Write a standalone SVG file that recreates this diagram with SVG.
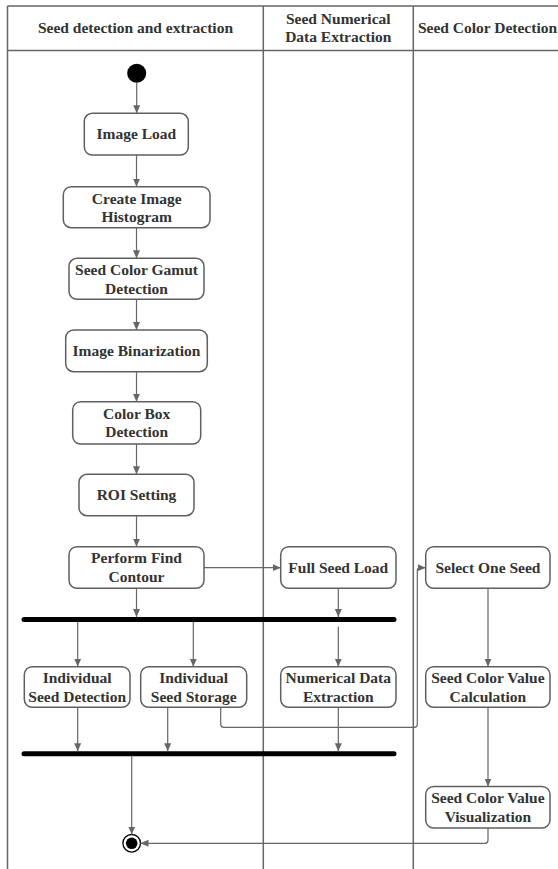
<svg xmlns="http://www.w3.org/2000/svg" width="558" height="869" viewBox="0 0 558 869">
<style>
.lane{stroke:#666;stroke-width:1.5;fill:none}
.node rect{fill:#fff;stroke:#5f5f5f;stroke-width:1.5}
text{font-family:"Liberation Serif","Times New Roman",serif;font-weight:bold;font-size:15.5px;fill:#333;text-anchor:middle}
.c{stroke:#666;stroke-width:1.2;fill:none}
.bar{stroke:#000;stroke-width:5;stroke-linecap:round}
</style>
<defs>
<marker id="ah" markerUnits="userSpaceOnUse" markerWidth="10" markerHeight="8" refX="8" refY="4" orient="auto">
<path d="M0,0.5 L8,4 L0,7.5 Z" fill="#666"/>
</marker>
</defs>
<rect width="558" height="869" fill="#fff"/>
<g id="lanes">
<path class="lane" d="M7.5,6 H558 M7.5,50.5 H558 M7.5,6 V869 M263.3,6 V869 M413.3,6 V869"/>
<text x="135.5" y="32.5">Seed detection and extraction</text>
<text x="338.3" y="23.5">Seed Numerical</text>
<text x="338.3" y="41.5">Data Extraction</text>
<text x="487.5" y="32.5">Seed Color Detection</text>
</g>
<g id="start"><circle cx="136.7" cy="73.3" r="9.5" fill="#000"/></g>
<g id="n1" class="node"><rect x="84.3" y="113.3" width="104" height="41.7" rx="8"/><text x="136.3" y="139">Image Load</text></g>
<g id="n2" class="node"><rect x="63.3" y="186.7" width="146.7" height="41" rx="8"/><text x="136.7" y="203.5">Create Image</text><text x="136.7" y="222">Histogram</text></g>
<g id="n3" class="node"><rect x="69" y="258.3" width="135" height="41" rx="8"/><text x="136.5" y="275">Seed Color Gamut</text><text x="136.5" y="293.5">Detection</text></g>
<g id="n4" class="node"><rect x="65.7" y="330" width="141.6" height="41.7" rx="8"/><text x="136.5" y="355.8">Image Binarization</text></g>
<g id="n5" class="node"><rect x="72.7" y="401.7" width="128" height="42.3" rx="8"/><text x="136.7" y="418.6">Color Box</text><text x="136.7" y="437.1">Detection</text></g>
<g id="n6" class="node"><rect x="79" y="474.3" width="115" height="41.4" rx="8"/><text x="136.5" y="500">ROI Setting</text></g>
<g id="n7" class="node"><rect x="69" y="546.7" width="135" height="41.6" rx="8"/><text x="136.5" y="563.4">Perform Find</text><text x="136.5" y="581.9">Contour</text></g>
<g id="n8" class="node"><rect x="280.7" y="546.7" width="115.3" height="41.6" rx="8"/><text x="338.3" y="572.5">Full Seed Load</text></g>
<g id="n9" class="node"><rect x="425.7" y="546.7" width="124.3" height="41.6" rx="8"/><text x="487.9" y="572.5">Select One Seed</text></g>
<g id="n10" class="node"><rect x="24.3" y="666.7" width="105.7" height="40.6" rx="8"/><text x="77.2" y="683.2">Individual</text><text x="77.2" y="701.7">Seed Detection</text></g>
<g id="n11" class="node"><rect x="140.7" y="666.7" width="106" height="40.6" rx="8"/><text x="193.7" y="683.2">Individual</text><text x="193.7" y="701.7">Seed Storage</text></g>
<g id="n12" class="node"><rect x="280.7" y="666.7" width="115.3" height="40.6" rx="8"/><text x="338.3" y="683.2">Numerical Data</text><text x="338.3" y="701.7">Extraction</text></g>
<g id="n13" class="node"><rect x="425.7" y="666.7" width="124.3" height="40.6" rx="8"/><text x="487.9" y="683.2">Seed Color Value</text><text x="487.9" y="701.7">Calculation</text></g>
<g id="n14" class="node"><rect x="425.7" y="786.5" width="124.3" height="41.5" rx="8"/><text x="487.9" y="803.2">Seed Color Value</text><text x="487.9" y="821.7">Visualization</text></g>
<g id="fork"><line class="bar" x1="24" y1="619.5" x2="394" y2="619.5"/></g>
<g id="join"><line class="bar" x1="24" y1="753.7" x2="394" y2="753.7"/></g>
<g id="end"><circle cx="131.7" cy="843.3" r="8.8" fill="#fff" stroke="#000" stroke-width="1.3"/><circle cx="131.7" cy="843.3" r="5.8" fill="#000"/></g>
<g id="connectors">
<path class="c" marker-end="url(#ah)" d="M136.7,82.8 V113.3"/>
<path class="c" marker-end="url(#ah)" d="M136.5,155 V186.7"/>
<path class="c" marker-end="url(#ah)" d="M136.5,227.7 V258.3"/>
<path class="c" marker-end="url(#ah)" d="M136.5,299.3 V330"/>
<path class="c" marker-end="url(#ah)" d="M136.5,371.7 V401.7"/>
<path class="c" marker-end="url(#ah)" d="M136.5,444 V474.3"/>
<path class="c" marker-end="url(#ah)" d="M136.5,515.7 V546.7"/>
<path class="c" marker-end="url(#ah)" d="M204,567.7 H280.7"/>
<path class="c" marker-end="url(#ah)" d="M136.5,588.3 V617"/>
<path class="c" marker-end="url(#ah)" d="M338.3,588.3 V617"/>
<path class="c" marker-end="url(#ah)" d="M77.7,622 V666.7"/>
<path class="c" marker-end="url(#ah)" d="M193.3,622 V666.7"/>
<path class="c" marker-end="url(#ah)" d="M338.3,626.7 V666.7"/>
<path class="c" marker-end="url(#ah)" d="M488,588.3 V666.7"/>
<path class="c" marker-end="url(#ah)" d="M220.7,707.3 V724.3 Q220.7,727.3 223.7,727.3 H414.3 Q417.3,727.3 417.3,724.3 V570.7 Q417.3,567.7 420.3,567.7 H425.7"/>
<path class="c" marker-end="url(#ah)" d="M77.7,707.3 V751.2"/>
<path class="c" marker-end="url(#ah)" d="M167.7,707.3 V751.2"/>
<path class="c" marker-end="url(#ah)" d="M338.3,707.3 V751.2"/>
<path class="c" marker-end="url(#ah)" d="M488,707.3 V786.5"/>
<path class="c" marker-end="url(#ah)" d="M131.7,756.2 V834.5"/>
<path class="c" marker-end="url(#ah)" d="M488,828 V840.3 Q488,843.3 485,843.3 H140.5"/>
</g>
</svg>
